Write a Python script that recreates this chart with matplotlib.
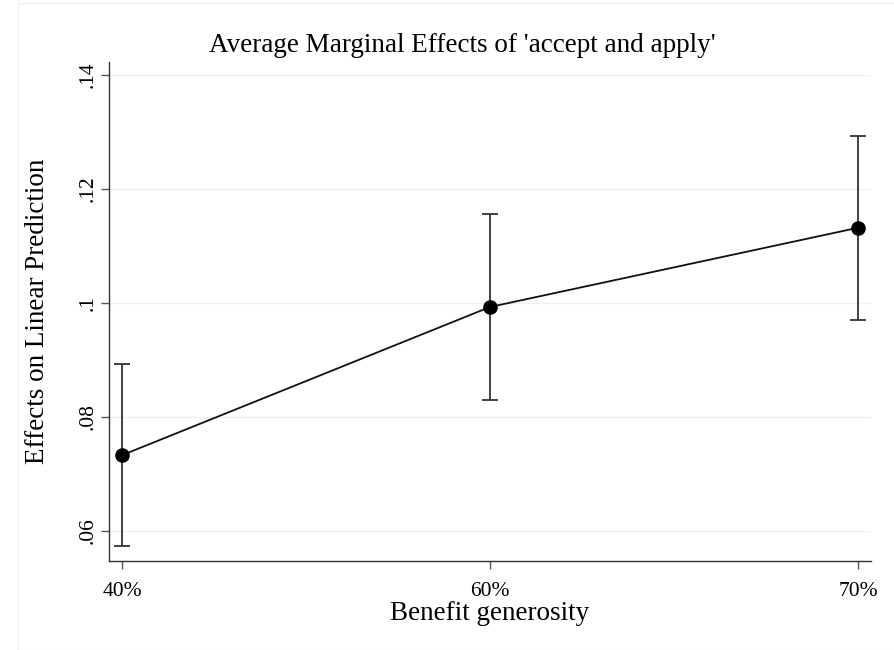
import matplotlib
matplotlib.use("Agg")
import matplotlib.pyplot as plt
from matplotlib.patches import Rectangle

categories = ["40%", "60%", "70%"]
effects = [0.0733, 0.0993, 0.1132]
ci_low = [0.0574, 0.0830, 0.0970]
ci_high = [0.0893, 0.1156, 0.1293]
yticks = [0.06, 0.08, 0.10, 0.12, 0.14]
ytick_labels = [".06", ".08", ".1", ".12", ".14"]

plt.rcParams['font.family'] = ['Liberation Serif', 'DejaVu Serif']

W, H = 894, 650
fig = plt.figure(figsize=(W / 100, H / 100), dpi=100)
fig.patch.set_facecolor("white")
# faint outer graph-region border
fig.add_artist(Rectangle((18 / W, 0), 1, 1 - 3 / H, transform=fig.transFigure,
                         fill=False, edgecolor="#eeeeee", linewidth=0.8))

left, right, top, bottom = 109, 871, 62, 561
ax = fig.add_axes([left / W, 1 - bottom / H, (right - left) / W, (bottom - top) / H])

x = list(range(len(categories)))
yerr = [[e - l for e, l in zip(effects, ci_low)], [h - e for e, h in zip(effects, ci_high)]]

for yt in yticks:
    ax.axhline(yt, color="#eaf2f3", linewidth=1.0, zorder=0)

ax.errorbar(x, effects, yerr=yerr, fmt="none", ecolor="#333333", elinewidth=1.3,
            capsize=5.5, capthick=1.3, zorder=2)
ax.plot(x, effects, color="#111111", linewidth=1.3, marker="o", markersize=9.5,
        markerfacecolor="black", markeredgecolor="black", zorder=3)

ax.set_xlim(-13 / 368, 2 + 13 / 368)
ax.set_ylim(0.06 - 30 / 5700, 0.14 + 13 / 5700)

ax.set_xticks(x)
ax.set_xticklabels(categories, fontsize=15.5)
ax.set_yticks(yticks)
ax.set_yticklabels(ytick_labels, fontsize=15.5, rotation=90, va="center")

for s in ["top", "right"]:
    ax.spines[s].set_visible(False)
for s in ["left", "bottom"]:
    ax.spines[s].set_color("#333333")
    ax.spines[s].set_linewidth(1.0)

ax.tick_params(axis="x", direction="out", length=6, width=1.0, color="#555555", pad=9)
ax.tick_params(axis="y", direction="out", length=6, width=1.0, color="#555555", pad=2)

ax.set_xlabel("Benefit generosity", fontsize=19.5, labelpad=0)
ax.set_ylabel("Effects on Linear Prediction", fontsize=19.5, labelpad=21)
fig.text(462 / W, 1 - 46 / H, "Average Marginal Effects of 'accept and apply'",
         fontsize=19.5, ha="center", va="center")

fig.savefig("out.png", dpi=100, facecolor="white")
